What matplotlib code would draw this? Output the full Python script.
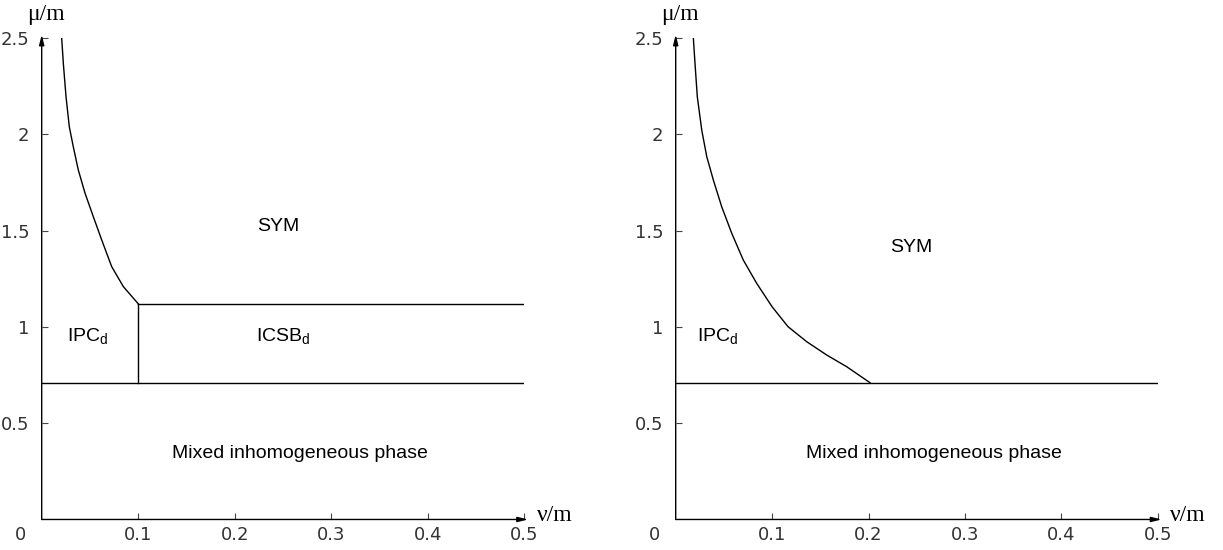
import matplotlib
matplotlib.use('Agg')
import matplotlib.pyplot as plt

# phase boundaries
left_curve_x = [0.0207, 0.0224, 0.0252, 0.0286, 0.0327, 0.0379, 0.0449, 0.0535,
                0.0622, 0.0725, 0.0846, 0.100]
left_curve_y = [2.50, 2.369, 2.195, 2.039, 1.936, 1.815, 1.694, 1.572,
                1.451, 1.313, 1.209, 1.12]
right_curve_x = [0.0183, 0.0200, 0.0224, 0.0270, 0.0322, 0.0390, 0.0477, 0.0581,
                 0.0701, 0.0840, 0.0999, 0.1165, 0.1359, 0.1566, 0.1774, 0.2016]
right_curve_y = [2.50, 2.369, 2.195, 2.022, 1.884, 1.763, 1.624, 1.486,
                 1.347, 1.226, 1.105, 1.001, 0.923, 0.854, 0.793, 0.71]
icsb_top = 1.12
mixed_top = 0.71
x_max = 0.5
y_max = 2.5

x_ticks = [0.1, 0.2, 0.3, 0.4, 0.5]
y_ticks = [0.5, 1.0, 1.5, 2.0, 2.5]
x_tick_labels = ['0.1', '0.2', '0.3', '0.4', '0.5']
y_tick_labels = ['0.5', '1', '1.5', '2', '2.5']

left_labels = [('SYM', 0.245, 1.52), ('IPC$_{\\rm d}$', 0.048, 0.95),
               ('ICSB$_{\\rm d}$', 0.25, 0.95), ('Mixed inhomogeneous phase', 0.268, 0.345)]
right_labels = [('SYM', 0.244, 1.41), ('IPC$_{\\rm d}$', 0.044, 0.95),
                ('Mixed inhomogeneous phase', 0.268, 0.345)]

plt.rcParams['mathtext.fontset'] = 'custom'
plt.rcParams['mathtext.rm'] = 'Liberation Sans'

fig = plt.figure(figsize=(12.23, 5.5), dpi=100)
ax1 = fig.add_axes([0.0341, 0.0555, 0.3945, 0.8755])
ax2 = fig.add_axes([0.5525, 0.0555, 0.3941, 0.8755])

tick_color = '#333333'


def setup_axes(ax):
    ax.set_xlim(0, x_max)
    ax.set_ylim(0, y_max)
    for s in ax.spines.values():
        s.set_visible(False)
    ax.set_xticks(x_ticks)
    ax.set_xticklabels(x_tick_labels)
    ax.set_yticks(y_ticks)
    ax.set_yticklabels(y_tick_labels)
    ax.tick_params(direction='in', length=4, width=0.8, labelsize=13,
                   labelcolor=tick_color, color='#444444')
    ax.tick_params(axis='x', pad=5)
    ax.tick_params(axis='y', pad=9)
    # axes with arrow heads
    arrow = dict(arrowstyle='-|>,head_length=0.6,head_width=0.15', lw=1.0,
                 color='black', shrinkA=0, shrinkB=0)
    ax.annotate('', xy=(x_max * 1.008, 0), xytext=(0, 0), arrowprops=arrow,
                annotation_clip=False)
    ax.annotate('', xy=(0, y_max * 1.007), xytext=(0, 0), arrowprops=arrow,
                annotation_clip=False)
    ax.text(-0.022, -0.08, '0', fontsize=13, color=tick_color, ha='center', va='center')
    ax.text(0.004, 2.62, 'μ/m', fontsize=17, family='Liberation Serif',
            ha='center', va='center')
    ax.text(0.513, 0.02, 'ν/m', fontsize=17, family='Liberation Serif',
            ha='left', va='center')


setup_axes(ax1)
setup_axes(ax2)

# left panel
ax1.plot(left_curve_x, left_curve_y, color='black', lw=1.0)
ax1.plot([left_curve_x[-1], x_max], [icsb_top, icsb_top], color='black', lw=1.0)
ax1.plot([left_curve_x[-1], left_curve_x[-1]], [mixed_top, icsb_top], color='black', lw=1.0)
ax1.plot([0, x_max], [mixed_top, mixed_top], color='black', lw=1.0)
for txt, x, y in left_labels:
    ax1.text(x, y, txt, fontsize=14, family='Liberation Sans', ha='center', va='center')

# right panel
ax2.plot(right_curve_x, right_curve_y, color='black', lw=1.0)
ax2.plot([0, x_max], [mixed_top, mixed_top], color='black', lw=1.0)
for txt, x, y in right_labels:
    ax2.text(x, y, txt, fontsize=14, family='Liberation Sans', ha='center', va='center')

fig.savefig('out.png', dpi=100)
